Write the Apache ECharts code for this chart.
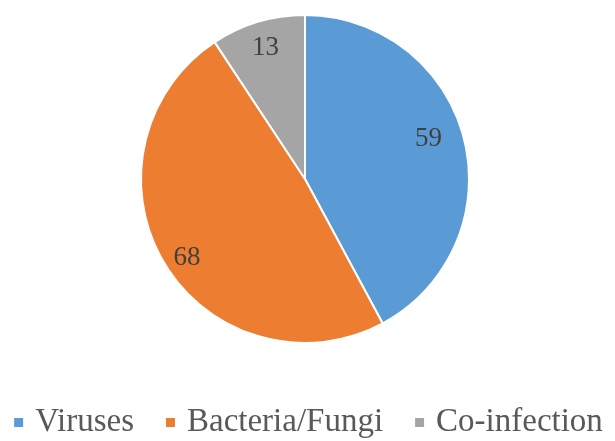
<!DOCTYPE html>
<html>
<head>
<meta charset="utf-8">
<script src="https://cdn.jsdelivr.net/npm/echarts@6/dist/echarts.min.js"></script>
<style>html,body{margin:0;padding:0;background:#fff}#c{width:615px;height:441px}</style>
</head>
<body>
<div id="c"></div>
<script>
const categories = ['Viruses', 'Bacteria/Fungi', 'Co-infection'];
const values = [59, 68, 13];
const colors = ['#5B9BD5', '#ED7D31', '#A5A5A5'];
const labelOffsets = [[41, -19], [-45, 35], [-15, -50]];

const chart = echarts.init(document.getElementById('c'));
chart.setOption({
  animation: false,
  backgroundColor: '#fff',
  legend: {
    data: categories,
    left: 'center',
    top: 401,
    icon: 'rect',
    itemWidth: 11,
    itemHeight: 11,
    itemGap: 30,
    textStyle: { fontFamily: 'Liberation Serif', fontSize: 33, color: '#595959', padding: [0, 0, 0, 6] }
  },
  series: [{
    type: 'pie',
    center: [305, 179],
    radius: [0, 164],
    startAngle: 90,
    clockwise: true,
    itemStyle: { borderColor: '#fff', borderWidth: 2 },
    label: {
      show: true,
      position: 'inside',
      formatter: '{c}',
      fontFamily: 'Liberation Serif',
      fontSize: 27,
      color: '#404040'
    },
    labelLine: { show: false },
    emphasis: { disabled: true },
    data: categories.map((n, i) => ({
      name: n,
      value: values[i],
      itemStyle: { color: colors[i] },
      label: { offset: labelOffsets[i] }
    }))
  }]
});
</script>
</body>
</html>
